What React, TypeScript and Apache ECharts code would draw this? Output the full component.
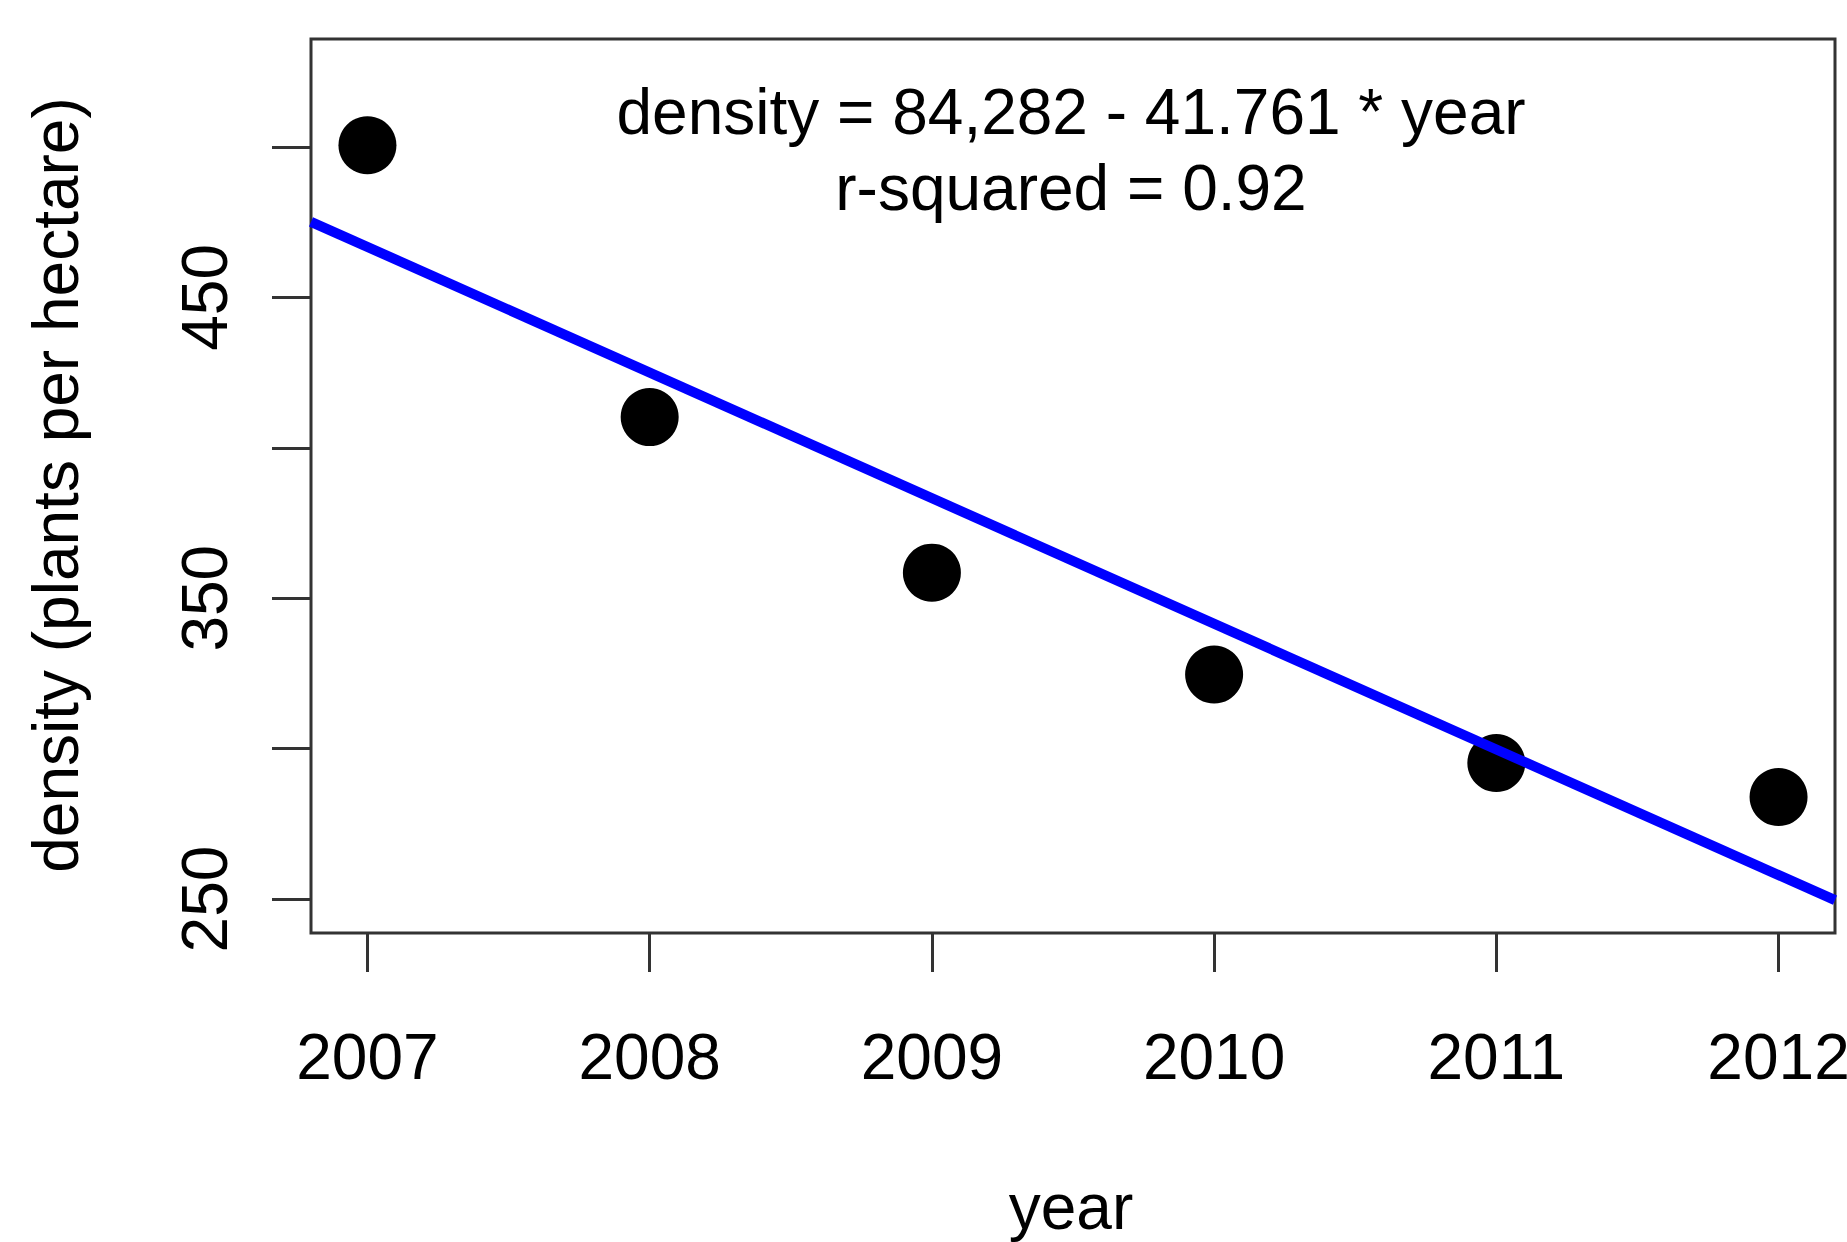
import React, { useEffect, useRef } from "react";
import * as echarts from "echarts";

const years = [2007, 2008, 2009, 2010, 2011, 2012];
const density = [500.6, 410.2, 358.5, 324.6, 295.2, 283.9];
const xTicks = [2007, 2008, 2009, 2010, 2011, 2012];
const yTicks = [250, 300, 350, 400, 450, 500];
const yLabels = [250, 350, 450];
const fitIntercept = 84281.1;
const fitSlope = -41.761;
const equationText = "density = 84,282 - 41.761 * year";
const rsqText = "r-squared = 0.92";
const xTitle = "year";
const yTitle = "density (plants per hectare)";

const X_MIN = 2006.8;
const X_MAX = 2012.2;
const Y_MIN = 238.7;
const Y_MAX = 535.9;

const FONT = "'Liberation Sans', Arial, sans-serif";

export default function App() {
  const ref = useRef<HTMLDivElement>(null);
  useEffect(() => {
    document.body.style.margin = "0";
    if (!ref.current) return;
    const chart = echarts.init(ref.current, null, { renderer: "svg" });
    const fitLine = [
      [X_MIN, fitIntercept + fitSlope * X_MIN],
      [X_MAX, fitIntercept + fitSlope * X_MAX],
    ];
    chart.setOption({
      animation: false,
      backgroundColor: "#ffffff",
      grid: {
        left: 311,
        top: 39,
        right: 12,
        bottom: 309,
        outerBoundsMode: "none",
        containLabel: false,
        show: true,
        borderColor: "#333333",
        borderWidth: 3,
        backgroundColor: "transparent",
      },
      xAxis: {
        type: "value",
        min: X_MIN,
        max: X_MAX,
        axisLine: { show: false },
        splitLine: { show: false },
        axisTick: {
          show: true,
          length: 39,
          customValues: xTicks,
          lineStyle: { color: "#333333", width: 3 },
        },
        axisLabel: {
          customValues: xTicks,
          fontSize: 64,
          fontFamily: FONT,
          color: "#000000",
          margin: 92,
          hideOverlap: false,
          formatter: (v: number) => String(v),
        },
      },
      yAxis: {
        type: "value",
        min: Y_MIN,
        max: Y_MAX,
        axisLine: { show: false },
        splitLine: { show: false },
        axisTick: {
          show: true,
          length: 39,
          customValues: yTicks,
          lineStyle: { color: "#333333", width: 3 },
        },
        axisLabel: {
          customValues: yLabels,
          rotate: 90,
          fontSize: 64,
          fontFamily: FONT,
          color: "#000000",
          margin: 74,
          formatter: (v: number) => String(v),
        },
      },
      series: [
        {
          type: "scatter",
          data: years.map((y, i) => [y, density[i]]),
          symbol: "circle",
          symbolSize: 58,
          itemStyle: { color: "#000000", opacity: 1 },
          z: 2,
        },
        {
          type: "line",
          data: fitLine,
          showSymbol: false,
          symbol: "none",
          lineStyle: { color: "#0000ff", width: 10 },
          z: 3,
          clip: true,
        },
      ],
      graphic: [
        {
          type: "text",
          x: 1071,
          y: 112,
          style: {
            text: equationText,
            fontSize: 64,
            fontFamily: FONT,
            fill: "#000000",
            align: "center",
            verticalAlign: "middle",
          },
        },
        {
          type: "text",
          x: 1071,
          y: 188,
          style: {
            text: rsqText,
            fontSize: 64,
            fontFamily: FONT,
            fill: "#000000",
            align: "center",
            verticalAlign: "middle",
          },
        },
        {
          type: "text",
          x: 1071,
          y: 1207,
          style: {
            text: xTitle,
            fontSize: 64,
            lineHeight: 64,
            fontFamily: FONT,
            fill: "#000000",
            align: "center",
            verticalAlign: "middle",
          },
        },
        {
          type: "text",
          x: 56,
          y: 485,
          rotation: Math.PI / 2,
          style: {
            text: yTitle,
            fontSize: 64,
            fontFamily: FONT,
            fill: "#000000",
            align: "center",
            verticalAlign: "middle",
          },
        },
      ],
    });
    return () => chart.dispose();
  }, []);
  return <div ref={ref} style={{ width: 1847, height: 1242 }} />;
}
